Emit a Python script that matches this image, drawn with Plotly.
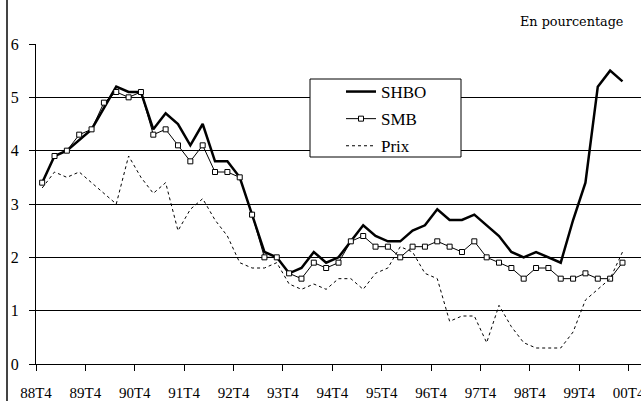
import plotly.graph_objects as go

# Quarterly data, 88T4 .. 00T3 (48 quarters)
shbo = [3.4, 3.9, 4.0, 4.2, 4.4, 4.8, 5.2, 5.1, 5.1, 4.4, 4.7, 4.5, 4.1, 4.5, 3.8, 3.8,
        3.5, 2.8, 2.1, 2.0, 1.7, 1.8, 2.1, 1.9, 2.0, 2.3, 2.6, 2.4, 2.3, 2.3, 2.5, 2.6,
        2.9, 2.7, 2.7, 2.8, 2.6, 2.4, 2.1, 2.0, 2.1, 2.0, 1.9, 2.7, 3.4, 5.2, 5.5, 5.3]
smb = [3.4, 3.9, 4.0, 4.3, 4.4, 4.9, 5.1, 5.0, 5.1, 4.3, 4.4, 4.1, 3.8, 4.1, 3.6, 3.6,
       3.5, 2.8, 2.0, 2.0, 1.7, 1.6, 1.9, 1.8, 1.9, 2.3, 2.4, 2.2, 2.2, 2.0, 2.2, 2.2,
       2.3, 2.2, 2.1, 2.3, 2.0, 1.9, 1.8, 1.6, 1.8, 1.8, 1.6, 1.6, 1.7, 1.6, 1.6, 1.9]
prix = [3.3, 3.6, 3.5, 3.6, 3.4, 3.2, 3.0, 3.9, 3.5, 3.2, 3.4, 2.5, 2.9, 3.1, 2.7, 2.4,
        1.9, 1.8, 1.8, 1.9, 1.5, 1.4, 1.5, 1.4, 1.6, 1.6, 1.4, 1.7, 1.8, 2.2, 2.1, 1.7,
        1.6, 0.8, 0.9, 0.9, 0.4, 1.1, 0.7, 0.4, 0.3, 0.3, 0.3, 0.6, 1.2, 1.4, 1.6, 2.1]
year_labels = ["88T4", "89T4", "90T4", "91T4", "92T4", "93T4", "94T4",
               "95T4", "96T4", "97T4", "98T4", "99T4", "00T4"]

x = list(range(len(shbo)))
tick_pos = [4 * k - 0.5 for k in range(len(year_labels))]

FONT = "'Liberation Serif', 'Times New Roman', serif"

fig = go.Figure()
fig.add_trace(go.Scatter(x=x, y=shbo, mode="lines", name="SHBO", legendgroup="a",
                         line=dict(color="black", width=2.5)))
fig.add_trace(go.Scatter(x=x, y=smb, mode="lines+markers", name="SMB", legendgroup="b",
                         line=dict(color="black", width=1),
                         marker=dict(symbol="square", size=5, color="white",
                                     line=dict(color="black", width=1))))
fig.add_trace(go.Scatter(x=x, y=prix, mode="lines", name="Prix", legendgroup="c",
                         line=dict(color="black", width=1, dash="3px,3px")))

W, H = 641, 401
ml, mr, mt, mb = 36, 0, 44, 37
pw, ph = W - ml - mr, H - mt - mb

def px(xp):
    return (xp - ml) / pw

def py(yp):
    return 1 - (yp - mt) / ph

fig.update_layout(
    width=W, height=H,
    margin=dict(l=ml, r=mr, t=mt, b=mb, pad=0, autoexpand=False),
    paper_bgcolor="white", plot_bgcolor="white",
    font=dict(family=FONT, color="black", size=15),
    showlegend=True,
    legend=dict(x=px(341), y=py(74), xanchor="left", yanchor="top",
                bgcolor="rgba(0,0,0,0)", borderwidth=0,
                font=dict(family=FONT, size=17, color="black"),
                traceorder="grouped", tracegroupgap=2),
    xaxis=dict(range=[-0.5, 48.5], tickmode="array", tickvals=tick_pos,
               ticktext=year_labels, showgrid=False, zeroline=False,
               showline=True, linecolor="black", linewidth=1, automargin=False,
               ticks="outside", ticklen=6, tickcolor="black", tickwidth=1,
               ticklabelstandoff=9, ticklabeloverflow="allow",
               tickfont=dict(family=FONT, size=15, color="black")),
    yaxis=dict(range=[0, 6], dtick=1, tick0=0, showgrid=True, gridcolor="black",
               gridwidth=1, zeroline=False, showline=True, linecolor="black",
               linewidth=1, ticks="outside", ticklen=6, tickcolor="black",
               ticklabelstandoff=7, automargin=False,
               tickfont=dict(family=FONT, size=16, color="black")),
    shapes=[
        dict(type="rect", xref="paper", yref="paper", x0=px(310), x1=px(461),
             y0=py(157), y1=py(79), line=dict(color="black", width=1),
             fillcolor="white", layer="above"),
        dict(type="line", xref="paper", yref="paper", x0=px(7), x1=px(7),
             y0=py(401), y1=py(0), line=dict(color="#444444", width=2)),
    ],
    annotations=[
        dict(text="En pourcentage", xref="paper", yref="paper", x=px(625), y=py(22),
             xanchor="right", yanchor="middle", showarrow=False,
             font=dict(family="'DejaVu Serif', serif", size=12.8, color="black")),
    ],
)

fig.write_html("out.html", config={"displayModeBar": False},
               post_script="document.body.style.margin='0';")
